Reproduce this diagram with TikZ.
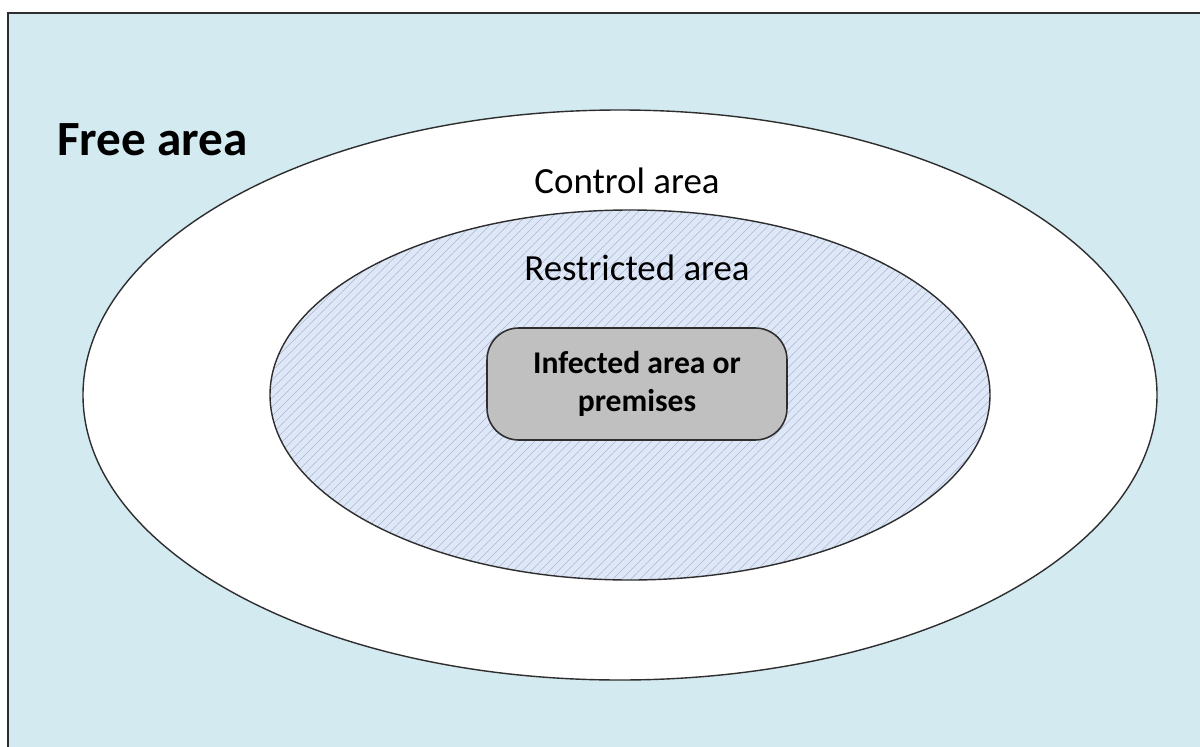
\documentclass[tikz,border=0pt]{standalone}
\usepackage{fontspec}
\setmainfont{Carlito}
\usetikzlibrary{positioning}
\definecolor{freebg}{HTML}{D3EAF0}
\definecolor{restrictbg}{HTML}{DDE7F8}
\definecolor{hatchcol}{HTML}{ADB8CC}
\definecolor{infectbg}{HTML}{C0C0C0}
\definecolor{edgecol}{HTML}{2E2E2E}

\begin{document}
\begin{tikzpicture}[x=0.02cm,y=-0.02cm,
    zoneline/.style={draw=edgecol,line width=0.8pt},
    zonelabel/.style={font=\fontsize{21}{25}\selectfont,text=black}]
  \useasboundingbox (0,0) rectangle (1200,747);
  % free area: the whole frame
  \fill[freebg] (8,13) rectangle (1200,747);
  \draw[edgecol,line width=1pt] (8,747) -- (8,13) -- (1200,13);
  % control area
  \coordinate (c) at (620,395);
  \draw[zoneline,fill=white] (c) ellipse [x radius=537,y radius=285];
  % restricted area, hatched
  \coordinate (r) at (630,395);
  \fill[restrictbg] (r) ellipse [x radius=360,y radius=185];
  \begin{scope}
    \clip (r) ellipse [x radius=360,y radius=185];
    \foreach \k in {-200,-191,...,1200}
      \draw[hatchcol,line width=0.3pt] (\k,600) -- (\k+400,200);
  \end{scope}
  \draw[zoneline] (r) ellipse [x radius=360,y radius=185];
  % infected area or premises
  \node[draw=edgecol,line width=0.9pt,fill=infectbg,rounded corners=18pt,
        minimum width=6cm,minimum height=2.24cm,align=center,
        font=\fontsize{18}{22}\selectfont\bfseries] (infected) at (637,384)
        {Infected area or\\premises};
  % labels
  \node[zonelabel] (restricted) at (637,268) {Restricted area};
  \node[zonelabel] (control) at (627,181) {Control area};
  \node[font=\fontsize{28}{32}\selectfont\bfseries,anchor=west] (free) at (51,140) {Free area};
\end{tikzpicture}
\end{document}
